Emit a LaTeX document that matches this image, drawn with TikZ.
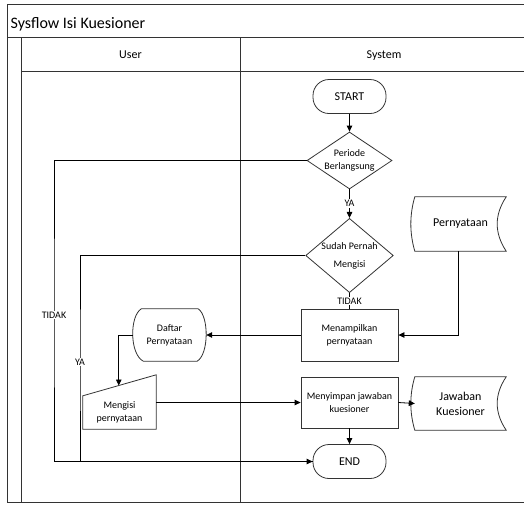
\documentclass[tikz,border=0pt]{standalone}
\usepackage{fontspec}
\setmainfont{Carlito}
\usetikzlibrary{arrows.meta,shapes.geometric,calc}
\begin{document}
\begin{tikzpicture}[x=1pt,y=-1pt,
  frame/.style={line width=1pt, draw=black!80},
  flow/.style={draw=black, line width=0.8pt},
  arr/.style={flow, -{Triangle[length=6pt,width=5.5pt]}},
  shapebox/.style={draw=black!80, line width=0.8pt},
  txt/.style={font=\fontsize{10}{13}\selectfont, align=center, inner sep=0pt},
  big/.style={font=\fontsize{12}{15}\selectfont, align=center, inner sep=0pt},
  term/.style={shapebox, rounded corners=16pt, minimum width=73pt, minimum height=34pt, big},
  procbox/.style={shapebox, minimum width=97pt, minimum height=52pt, txt},
  decision/.style={shapebox, diamond, txt},
  lbl/.style={fill=white, inner sep=1pt, font=\fontsize{10}{12}\selectfont},
]
\useasboundingbox (0,0) rectangle (524,504);

% swimlane frame
\draw[frame] (524,4) -- (7,4) -- (7,502) -- (524,502);
\draw[frame] (7,37) -- (524,37);
\draw[frame] (21,37) -- (21,502);
\draw[frame] (21,71) -- (524,71);
\draw[frame] (240,37) -- (240,502);

\node[font=\fontsize{16}{18}\selectfont, anchor=base west, inner sep=0pt] (title) at (10.5,28) {Sysflow Isi Kuesioner};
\node[big, anchor=base] (user) at (130.5,58.3) {User};
\node[big, anchor=base] (system) at (384,58.3) {System};

% system lane
\node[term] (start) at (349.5,96.5) {START};
\node[decision, aspect=1.49, minimum width=85pt, minimum height=57pt] (periode) at (349.5,160.5) {Periode\\Berlangsung};
\node[decision, aspect=1.18, minimum width=85pt, minimum height=71pt] (sudah) at (349.5,255.5) {Sudah Pernah\\[5pt]Mengisi};
\node[procbox] (tampil) at (349.5,335) {Menampilkan\\pernyataan};
\node[procbox, minimum height=51pt] (simpan) at (349.5,402.5) {Menyimpan jawaban\\kuesioner};
\node[term] (end) at (349.5,461.5) {END};

% stored data
\node[big, minimum width=91pt, minimum height=54pt] (pern) at (460.5,224) {Pernyataan};
\draw[shapebox] (pern.north west) -- (pern.north east)
  .. controls ($(pern.east)+(-12,-9)$) and ($(pern.east)+(-12,9)$) .. (pern.south east)
  -- (pern.south west)
  .. controls ($(pern.west)+(-5.3,9)$) and ($(pern.west)+(-5.3,-9)$) .. cycle;

\node[big, minimum width=91pt, minimum height=53pt] (jawab) at (460.5,403.5) {Jawaban\\Kuesioner};
\draw[shapebox] (jawab.north west) -- (jawab.north east)
  .. controls ($(jawab.east)+(-12,-9)$) and ($(jawab.east)+(-12,9)$) .. (jawab.south east)
  -- (jawab.south west)
  .. controls ($(jawab.west)+(-5.3,9)$) and ($(jawab.west)+(-5.3,-9)$) .. cycle;

% user lane: display
\node[txt, minimum width=73pt, minimum height=52pt] (daftar) at (169.5,335) {Daftar\\Pernyataan};
\draw[shapebox] ($(daftar.north west)+(8.5,0)$) -- ($(daftar.north east)+(-8,0)$)
  .. controls ($(daftar.east)+(2.8,-19)$) and ($(daftar.east)+(2.8,19)$) .. ($(daftar.south east)+(-9,0)$)
  -- ($(daftar.south west)+(10.5,0)$)
  .. controls ($(daftar.west)+(-3.3,19)$) and ($(daftar.west)+(-3.3,-19)$) .. cycle;

% user lane: manual input
\node[txt, minimum width=73pt, minimum height=33pt] (isi) at (119.5,412.5) {Mengisi\\pernyataan};
\coordinate (isiNE) at ($(isi.north east)+(0,-21)$);
\coordinate (isitop) at ($(isi.north west)!0.49!(isiNE)$);
\draw[shapebox] (isi.south west) -- (isi.south east) -- (isiNE) -- (isi.north west) -- cycle;

% connectors
\draw[arr] (start) -- (periode);
\draw[arr] (periode.south) -- node[lbl]{YA} (sudah.north);
\draw[flow] (sudah.south) -- node[lbl]{TIDAK} (tampil.north);
\draw[arr] ($(pern.south)+(-2,0)$) |- (tampil.east);
\draw[arr] (tampil.west) -- (daftar.east);
\draw[arr] (daftar.west) -| (isitop);
\draw[arr] (isi.east |- simpan.west) -- (simpan.west);
\draw[arr] (simpan.east) -- (jawab.west);
\draw[arr] (simpan.south) -- (end.north);

\coordinate (tidakX) at (54,315);
\coordinate (yaX) at (80,362);
\draw[arr] (periode.west) -| (tidakX) node[lbl]{TIDAK} |- (end.west);
\draw[flow] (sudah.west) -| (yaX) node[lbl]{YA} |- (end.west);
\end{tikzpicture}
\end{document}
